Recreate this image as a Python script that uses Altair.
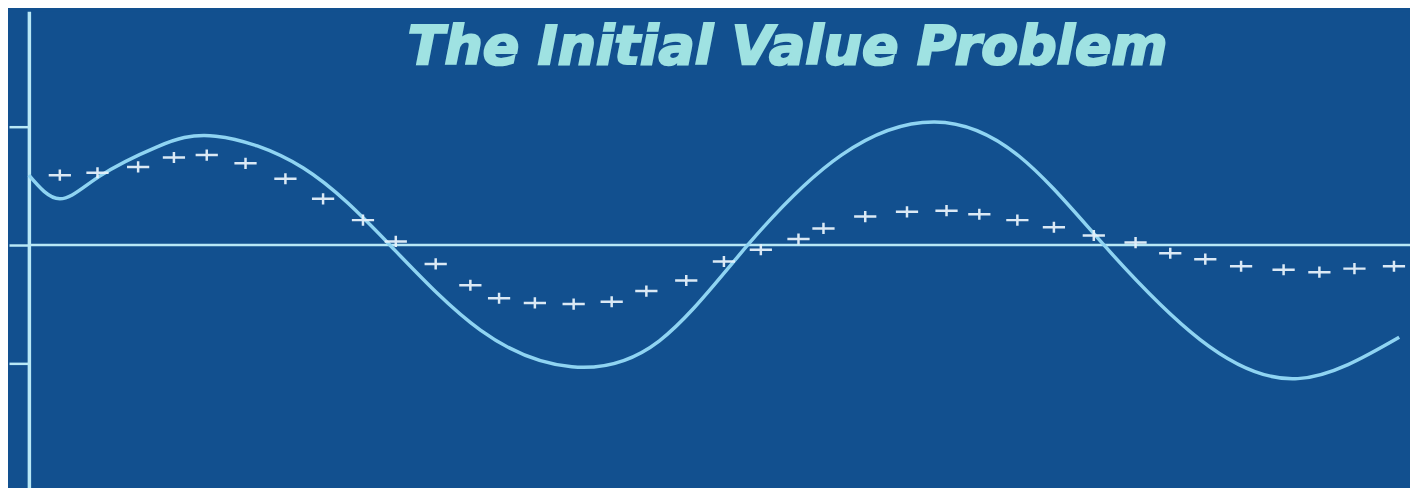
import altair as alt
import pandas as pd

# Smooth curve (exact solution), key points
curve_t = [0.00, 0.83, 1.89, 3.44, 5.01, 7.36, 9.68, 12.11, 14.56, 16.91,
           19.28, 21.79, 24.29, 26.56, 28.83, 31.41, 34.03, 36.75]
curve_y = [0.59, 0.39, 0.58, 0.83, 0.92, 0.65, 0.00, -0.72, -1.03, -0.81,
           0.00, 0.76, 1.04, 0.75, 0.00, -0.80, -1.13, -0.78]

# Plus markers (numerical approximation)
pts_t = [0.83, 1.84, 2.93, 3.89, 4.77, 5.81, 6.88, 7.89, 8.96, 9.84, 10.91, 11.84,
         12.61, 13.57, 14.61, 15.63, 16.56, 17.63, 18.64, 19.63, 20.64, 21.31,
         22.43, 23.55, 24.61, 25.49, 26.51, 27.49, 28.56, 29.68, 30.61, 31.55,
         32.51, 33.65, 34.61, 35.55, 36.61]
pts_y = [0.59, 0.61, 0.66, 0.74, 0.76, 0.69, 0.56, 0.39, 0.21, 0.03, -0.16, -0.34,
         -0.45, -0.49, -0.50, -0.48, -0.39, -0.30, -0.14, -0.04, 0.05, 0.14,
         0.24, 0.28, 0.29, 0.26, 0.21, 0.15, 0.08, 0.02, -0.07, -0.12,
         -0.18, -0.21, -0.23, -0.20, -0.18]

y_ticks = [-1, 0, 1]
title_text = "The Initial Value Problem"

BG = "#12508f"
CURVE = "#8fd4f2"
AXIS = "#b8e8f6"
PLUS = "#e6f2fb"
TITLE = "#9fe2e2"

curve_df = pd.DataFrame({"t": curve_t, "y": curve_y})
pts_df = pd.DataFrame({"t": pts_t, "y": pts_y})

xs = alt.Scale(domain=[0, 37.04], nice=False, zero=False)
ys = alt.Scale(domain=[-2.06, 1.975], nice=False, zero=False)

zero_rule = alt.Chart(pd.DataFrame({"y": [0]})).mark_rule(
    color=AXIS, strokeWidth=2.5
).encode(
    y=alt.Y("y:Q", scale=ys, axis=alt.Axis(
        values=y_ticks, labels=False, title=None, grid=False,
        domainColor=AXIS, domainWidth=3.5, tickColor=AXIS, tickWidth=2.5,
        tickSize=20))
)

line = alt.Chart(curve_df).mark_line(
    color=CURVE, strokeWidth=3.5, interpolate="natural"
).encode(
    x=alt.X("t:Q", scale=xs, axis=None),
    y=alt.Y("y:Q", scale=ys),
)

plus = alt.Chart(pts_df).mark_point(
    shape="M-1,0L1,0M0,-0.5L0,0.5", size=500, filled=False,
    stroke=PLUS, strokeWidth=2.5, opacity=0.95
).encode(
    x=alt.X("t:Q", scale=xs, axis=None),
    y=alt.Y("y:Q", scale=ys),
)

title = alt.Chart(pd.DataFrame({"label": [title_text]})).mark_text(
    font="DejaVu Sans", fontSize=54, fontWeight="bold", fontStyle="italic",
    color=TITLE, align="center", baseline="middle",
    stroke=TITLE, strokeWidth=2.2
).encode(
    text="label:N", x=alt.value(763), y=alt.value(37)
)

chart = alt.layer(zero_rule, line, plus, title).properties(
    width=1389, height=480,
    autosize=alt.AutoSizeParams(type="none"),
    padding={"left": 21, "top": 2, "right": 0, "bottom": 0},
    background=BG,
).configure_view(stroke=None, fill=BG)

chart.save("out.html", embed_options={"renderer": "svg", "actions": False})
